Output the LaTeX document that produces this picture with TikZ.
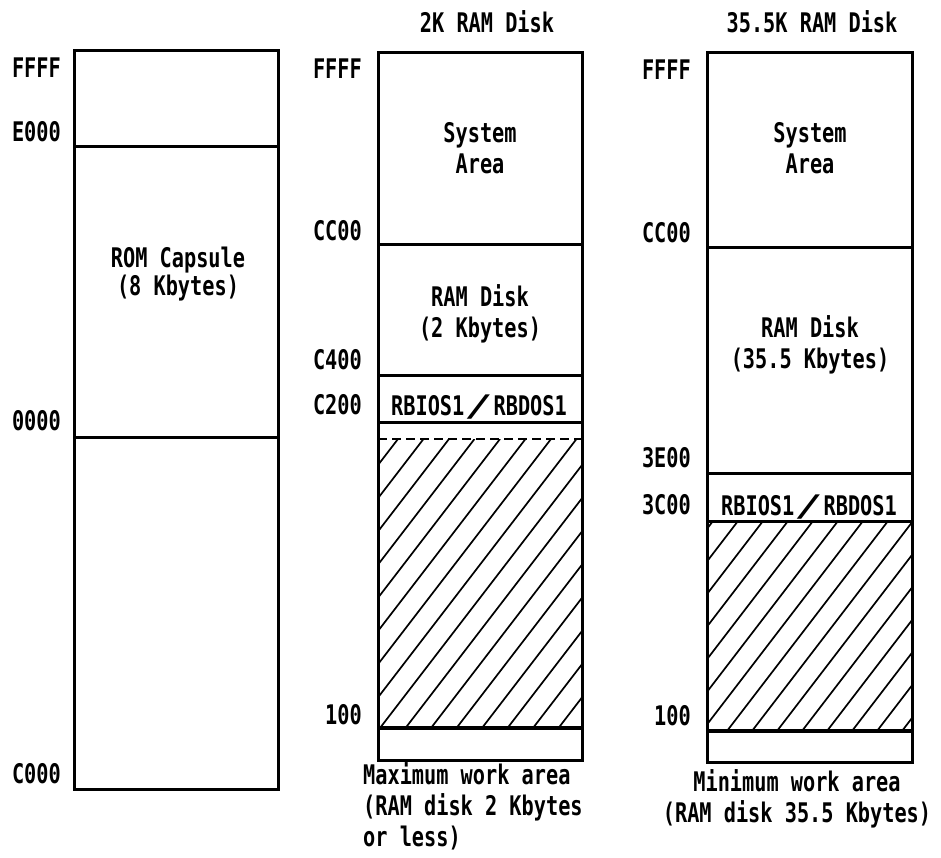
\documentclass[tikz,border=0pt]{standalone}
\usepackage{fontspec}
\newfontfamily\jf{DejaVu Sans Mono}[FakeStretch=0.75]
\begin{document}
\begin{tikzpicture}[x=1pt,y=-1pt,
  txt/.style={font=\jf\bfseries\fontsize{27}{31}\selectfont, inner sep=0pt, align=center},
  addr/.style={txt, anchor=east},
  box/.style={line width=3pt},
  divider/.style={line width=3pt},
  baseline100/.style={line width=4pt},
  hatch/.style={line width=1.7pt},
  dashsep/.style={line width=1.5pt, dash pattern=on 9pt off 5pt}]
\useasboundingbox (0,0) rectangle (941,858);
\newcommand{\wslash}{\raisebox{-1pt}{\scalebox{2.4}[1.1]{\mdseries /}}}

% ---------- left column ----------
\draw[box] (74,51) rectangle (278,789);
\draw[divider] (74,147) -- (278,147);
\draw[divider] (74,437) -- (278,437);
\node[addr] (lffff) at (61,68) {FFFF};
\node[addr] (le000) at (61,132) {E000};
\node[addr] (l0000) at (61,421) {0000};
\node[addr] (lc000) at (61,774) {C000};
\node[txt] (rom) at (178,274) {ROM Capsule\\[-3pt](8 Kbytes)};

% ---------- middle column ----------
\node[txt] (t2k) at (487,22) {2K RAM Disk};
\begin{scope}
  \clip (378,439) rectangle (582,728);
  \foreach \i in {-10,...,9} \draw[hatch] ({380+\i*25.5},728) -- ++(222,-289);
\end{scope}
\draw[box] (378,53) rectangle (582,760);
\draw[divider] (378,245) -- (582,245);
\draw[divider] (378,375) -- (582,375);
\draw[divider] (378,422) -- (582,422);
\draw[dashsep] (378,439) -- (582,439);
\draw[baseline100] (378,728) -- (582,728);
\node[addr] (mffff) at (362,69) {FFFF};
\node[addr] (mcc00) at (362,231) {CC00};
\node[addr] (mc400) at (362,360) {C400};
\node[addr] (mc200) at (362,405) {C200};
\node[addr] (m100) at (362,715) {100};
\node[txt] (msys) at (480,148) {System\\Area};
\node[txt] (mram) at (480,314) {RAM Disk\\(2 Kbytes)};
\node[txt] (mrb) at (479,407) {RBIOS1\wslash RBDOS1};
\node[txt, align=left, anchor=north west] (mmax) at (363,762) {Maximum work area\\(RAM disk 2 Kbytes\\or less)};

% ---------- right column ----------
\node[txt] (t35k) at (812,22) {35.5K RAM Disk};
\begin{scope}
  \clip (707,521) rectangle (912,731);
  \foreach \i in {-8,...,9} \draw[hatch] ({702+\i*25},731) -- ++(161,-210);
\end{scope}
\draw[box] (707,53) rectangle (912,762);
\draw[divider] (707,248) -- (912,248);
\draw[divider] (707,473) -- (912,473);
\draw[divider] (707,521) -- (912,521);
\draw[baseline100] (707,731) -- (912,731);
\node[addr] (rffff) at (691,70) {FFFF};
\node[addr] (rcc00) at (691,233) {CC00};
\node[addr] (r3e00) at (691,458) {3E00};
\node[addr] (r3c00) at (691,505) {3C00};
\node[addr] (r100) at (691,716) {100};
\node[txt] (rsys) at (810,148) {System\\Area};
\node[txt] (rram) at (810,345) {RAM Disk\\(35.5 Kbytes)};
\node[txt] (rrb) at (809,507) {RBIOS1\wslash RBDOS1};
\node[txt] (rmin) at (797,799) {Minimum work area\\(RAM disk 35.5 Kbytes)};
\end{tikzpicture}
\end{document}
